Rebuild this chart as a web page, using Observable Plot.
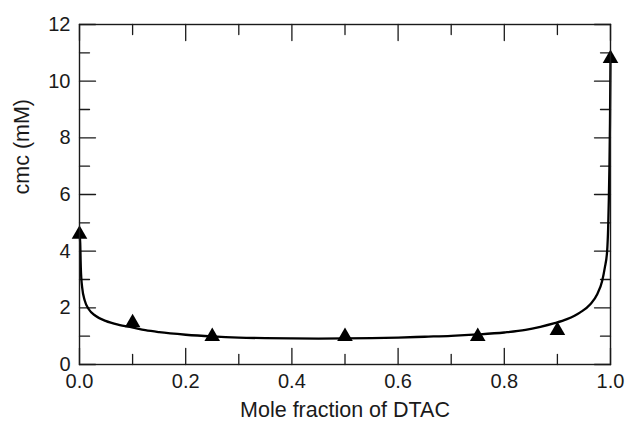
<!DOCTYPE html>
<html><head><meta charset="utf-8">
<script src="https://cdn.jsdelivr.net/npm/d3@7"></script>
<script src="https://cdn.jsdelivr.net/npm/@observablehq/plot@0.6"></script>
<style>body{margin:0;background:#fff}</style>
</head><body><div id="chart"></div>
<script>
// measured triangles
const pointX = [0, 0.1, 0.25, 0.5, 0.75, 0.9, 1.0];
const pointY = [4.6, 1.47, 0.99, 0.99, 0.99, 1.2, 10.8];
// fitted curve
const curveX = [0, 0.0013, 0.0025, 0.005, 0.01, 0.0175, 0.03, 0.049, 0.074, 0.099, 0.124, 0.15, 0.2, 0.25, 0.3, 0.35, 0.4, 0.45, 0.5, 0.55, 0.6, 0.65, 0.7, 0.75, 0.8, 0.84, 0.868, 0.893, 0.918, 0.943, 0.962, 0.975, 0.9843, 0.9893, 0.9937, 0.9956, 0.9968, 0.998, 0.999, 1.0];
const curveY = [4.6, 4.3, 3.4, 2.72, 2.25, 1.95, 1.72, 1.54, 1.4, 1.31, 1.21, 1.14, 1.05, 0.99, 0.95, 0.93, 0.92, 0.915, 0.92, 0.93, 0.95, 0.98, 1.01, 1.06, 1.13, 1.22, 1.33, 1.45, 1.6, 1.84, 2.13, 2.48, 2.95, 3.42, 4.01, 4.84, 5.78, 7.0, 8.5, 10.8];
const xMajor = [0, 0.2, 0.4, 0.6, 0.8, 1.0];
const xMinor = [0.1, 0.3, 0.5, 0.7, 0.9];
const yMajor = [0, 2, 4, 6, 8, 10, 12];
const yMinor = [1, 3, 5, 7, 9, 11];
const xTitle = "Mole fraction of DTAC";
const yTitle = "cmc (mM)";

const points = pointX.map((x, i) => ({x, y: pointY[i]}));
const curve = curveX.map((x, i) => ({x, y: curveY[i]}));
const font = "Liberation Sans, Arial, Helvetica, sans-serif";
const ink = "#1a1a1a";

const tickShape = {draw(c, l) { c.moveTo(0, 0); c.lineTo(0, -l); }};
const tk = {stroke: ink, strokeWidth: 1.3, anchor: "start", shape: tickShape};
const xTicks = (data, len, y, rotate) => Plot.vector(data, {x: d => d, y, length: len, rotate, ...tk});
const yTicks = (data, len, x, rotate) => Plot.vector(data, {x, y: d => d, length: len, rotate, ...tk});

const chart = Plot.plot({
  width: 627, height: 421,
  marginLeft: 79, marginRight: 17, marginTop: 24, marginBottom: 57,
  style: {fontFamily: font, fontSize: "20px", color: ink, background: "#fff"},
  x: {domain: [0, 1], axis: null},
  y: {domain: [0, 12], axis: null},
  marks: [
    Plot.axisX(xMajor, {anchor: "bottom", tickSize: 0, tickPadding: 9, tickFormat: d3.format(".1f"), label: null, fontSize: 20, fill: ink}),
    Plot.axisY(yMajor, {anchor: "left", tickSize: 0, tickPadding: 9, tickFormat: d3.format("d"), label: null, fontSize: 20, fill: ink}),
    Plot.text([xTitle], {frameAnchor: "bottom", text: d => d, dy: 46, lineAnchor: "middle", fontSize: 21.5, fill: ink}),
    Plot.text([yTitle], {frameAnchor: "left", text: d => d, dx: -57, rotate: -90, lineAnchor: "middle", fontSize: 21.5, fill: ink}),
    // inward ticks on all four sides
    xTicks(xMajor, 16, 0, 0),
    xTicks(xMinor, 10, 0, 0),
    xTicks(xMajor, 16, 12, 180),
    xTicks(xMinor, 10, 12, 180),
    yTicks(yMajor, 16, 0, 90),
    yTicks(yMinor, 10, 0, 90),
    yTicks(yMajor, 16, 1, -90),
    yTicks(yMinor, 10, 1, -90),
    Plot.line(curve, {x: "x", y: "y", stroke: "#000", strokeWidth: 2.3, curve: "monotone-x"}),
    Plot.dot(points, {x: "x", y: "y", symbol: "triangle", r: 5.8, fill: "#000", stroke: "none"}),
    Plot.frame({stroke: ink, strokeWidth: 1.4})
  ]
});
document.getElementById("chart").appendChild(chart);
</script>
</body></html>
